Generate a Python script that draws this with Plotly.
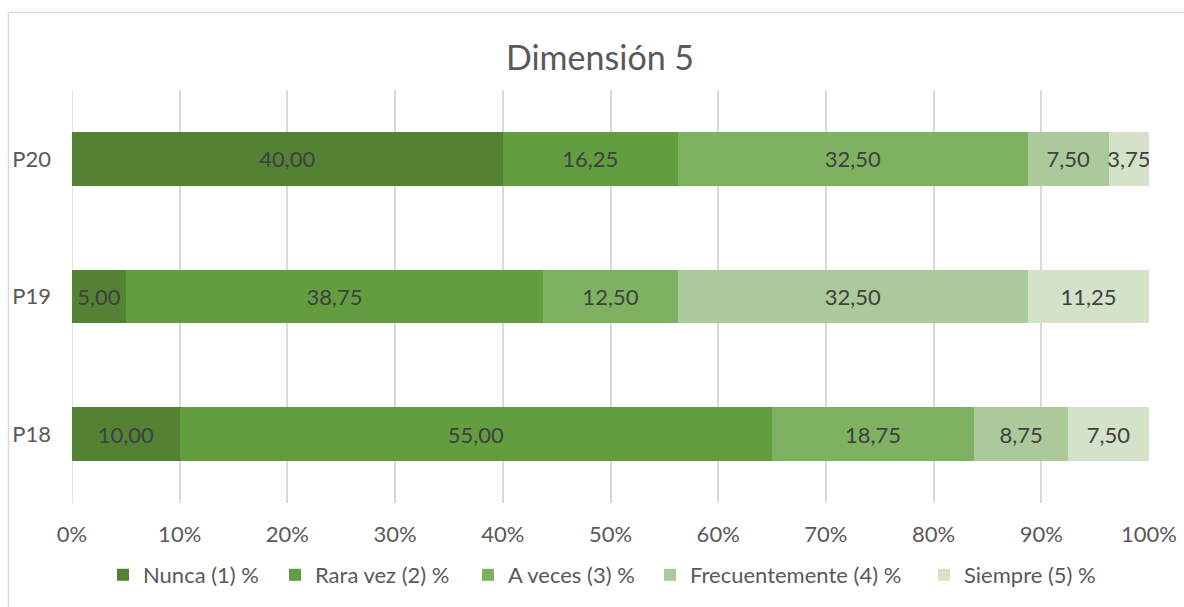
import plotly.graph_objects as go

# Survey items (bottom to top) and response shares in percent
preguntas = ["P18", "P19", "P20"]
series = ["Nunca (1) %", "Rara vez (2) %", "A veces (3) %", "Frecuentemente (4) %", "Siempre (5) %"]
nunca = [10.00, 5.00, 40.00]
rara_vez = [55.00, 38.75, 16.25]
a_veces = [18.75, 12.50, 32.50]
frecuentemente = [8.75, 32.50, 7.50]
siempre = [7.50, 11.25, 3.75]
colores = ["#548235", "#629D3F", "#7EB260", "#ABC99A", "#D3E2C8"]
x_ticks = list(range(0, 101, 10))

valores = [nunca, rara_vez, a_veces, frecuentemente, siempre]

FONT = "Lato, 'Open Sans', sans-serif"
W, H = 1184, 607
L, R, T, B = 72, 1149, 90, 503  # plot area in pixels

# left edge (px) of each legend entry's swatch
legend_left = [118, 290, 483, 665, 939]


def fmt(v):
    return f"{v:.2f}".replace(".", ",")


def px_x(p):
    return (p - L) / (R - L)


def px_y(q):
    return (B - q) / (B - T)


fig = go.Figure()
legend_layout = {}
for i, (nombre, vals, col) in enumerate(zip(series, valores, colores)):
    key = f"legend{i + 2}"
    fig.add_trace(go.Bar(
        y=preguntas, x=vals, name=nombre, orientation="h",
        marker=dict(color=col, line=dict(width=0)),
        text=[fmt(v) for v in vals], textposition="inside",
        insidetextanchor="middle", textangle=0,
        textfont=dict(family=FONT, size=22, color="#404040"),
        hoverinfo="skip", legend=key, showlegend=True,
    ))
    legend_layout[key] = dict(
        orientation="h", x=px_x(legend_left[i] - 15), xanchor="left",
        y=px_y(575), yanchor="middle", bgcolor="rgba(0,0,0,0)",
        font=dict(family=FONT, size=22, color="#595959"), itemwidth=30,
        visible=True,
    )

# 0% gridline at the left edge of the plot
fig.add_shape(type="line", xref="x", yref="paper", x0=0, x1=0, y0=0, y1=1,
              layer="below", line=dict(color="#D9D9D9", width=1.5))

# Chart frame lines (left and top edges)
frame = dict(color="#D9D9D9", width=1.5)
fig.add_shape(type="line", xref="paper", yref="paper",
              x0=px_x(8.5), x1=px_x(8.5), y0=px_y(12.5), y1=px_y(640), line=frame)
fig.add_shape(type="line", xref="paper", yref="paper",
              x0=px_x(8.5), x1=px_x(1200), y0=px_y(12.5), y1=px_y(12.5), line=frame)

fig.update_layout(
    width=W, height=H,
    margin=dict(l=L, r=W - R, t=T, b=H - B, autoexpand=False),
    paper_bgcolor="white", plot_bgcolor="white",
    barmode="stack", bargap=0.61,
    uniformtext=dict(minsize=22, mode="show"),
    title=dict(text="Dimensión 5", x=600 / W, xref="container", xanchor="center",
               y=1 - 58 / H, yref="container", yanchor="middle",
               font=dict(family=FONT, size=34, color="#595959")),
    font=dict(family=FONT, color="#595959"),
    xaxis=dict(range=[0, 100], tickvals=x_ticks,
               ticktext=[f"{v}%" for v in x_ticks],
               showgrid=True, gridcolor="#D9D9D9", gridwidth=1.5,
               zeroline=False, showline=False, ticks="",
               tickfont=dict(family=FONT, size=22, color="#595959"),
               ticklabelstandoff=16),
    yaxis=dict(showgrid=False, zeroline=False, showline=False, ticks="",
               tickfont=dict(family=FONT, size=22, color="#595959"),
               ticklabelstandoff=20),
    **legend_layout,
)

fig.write_html("out.html")
